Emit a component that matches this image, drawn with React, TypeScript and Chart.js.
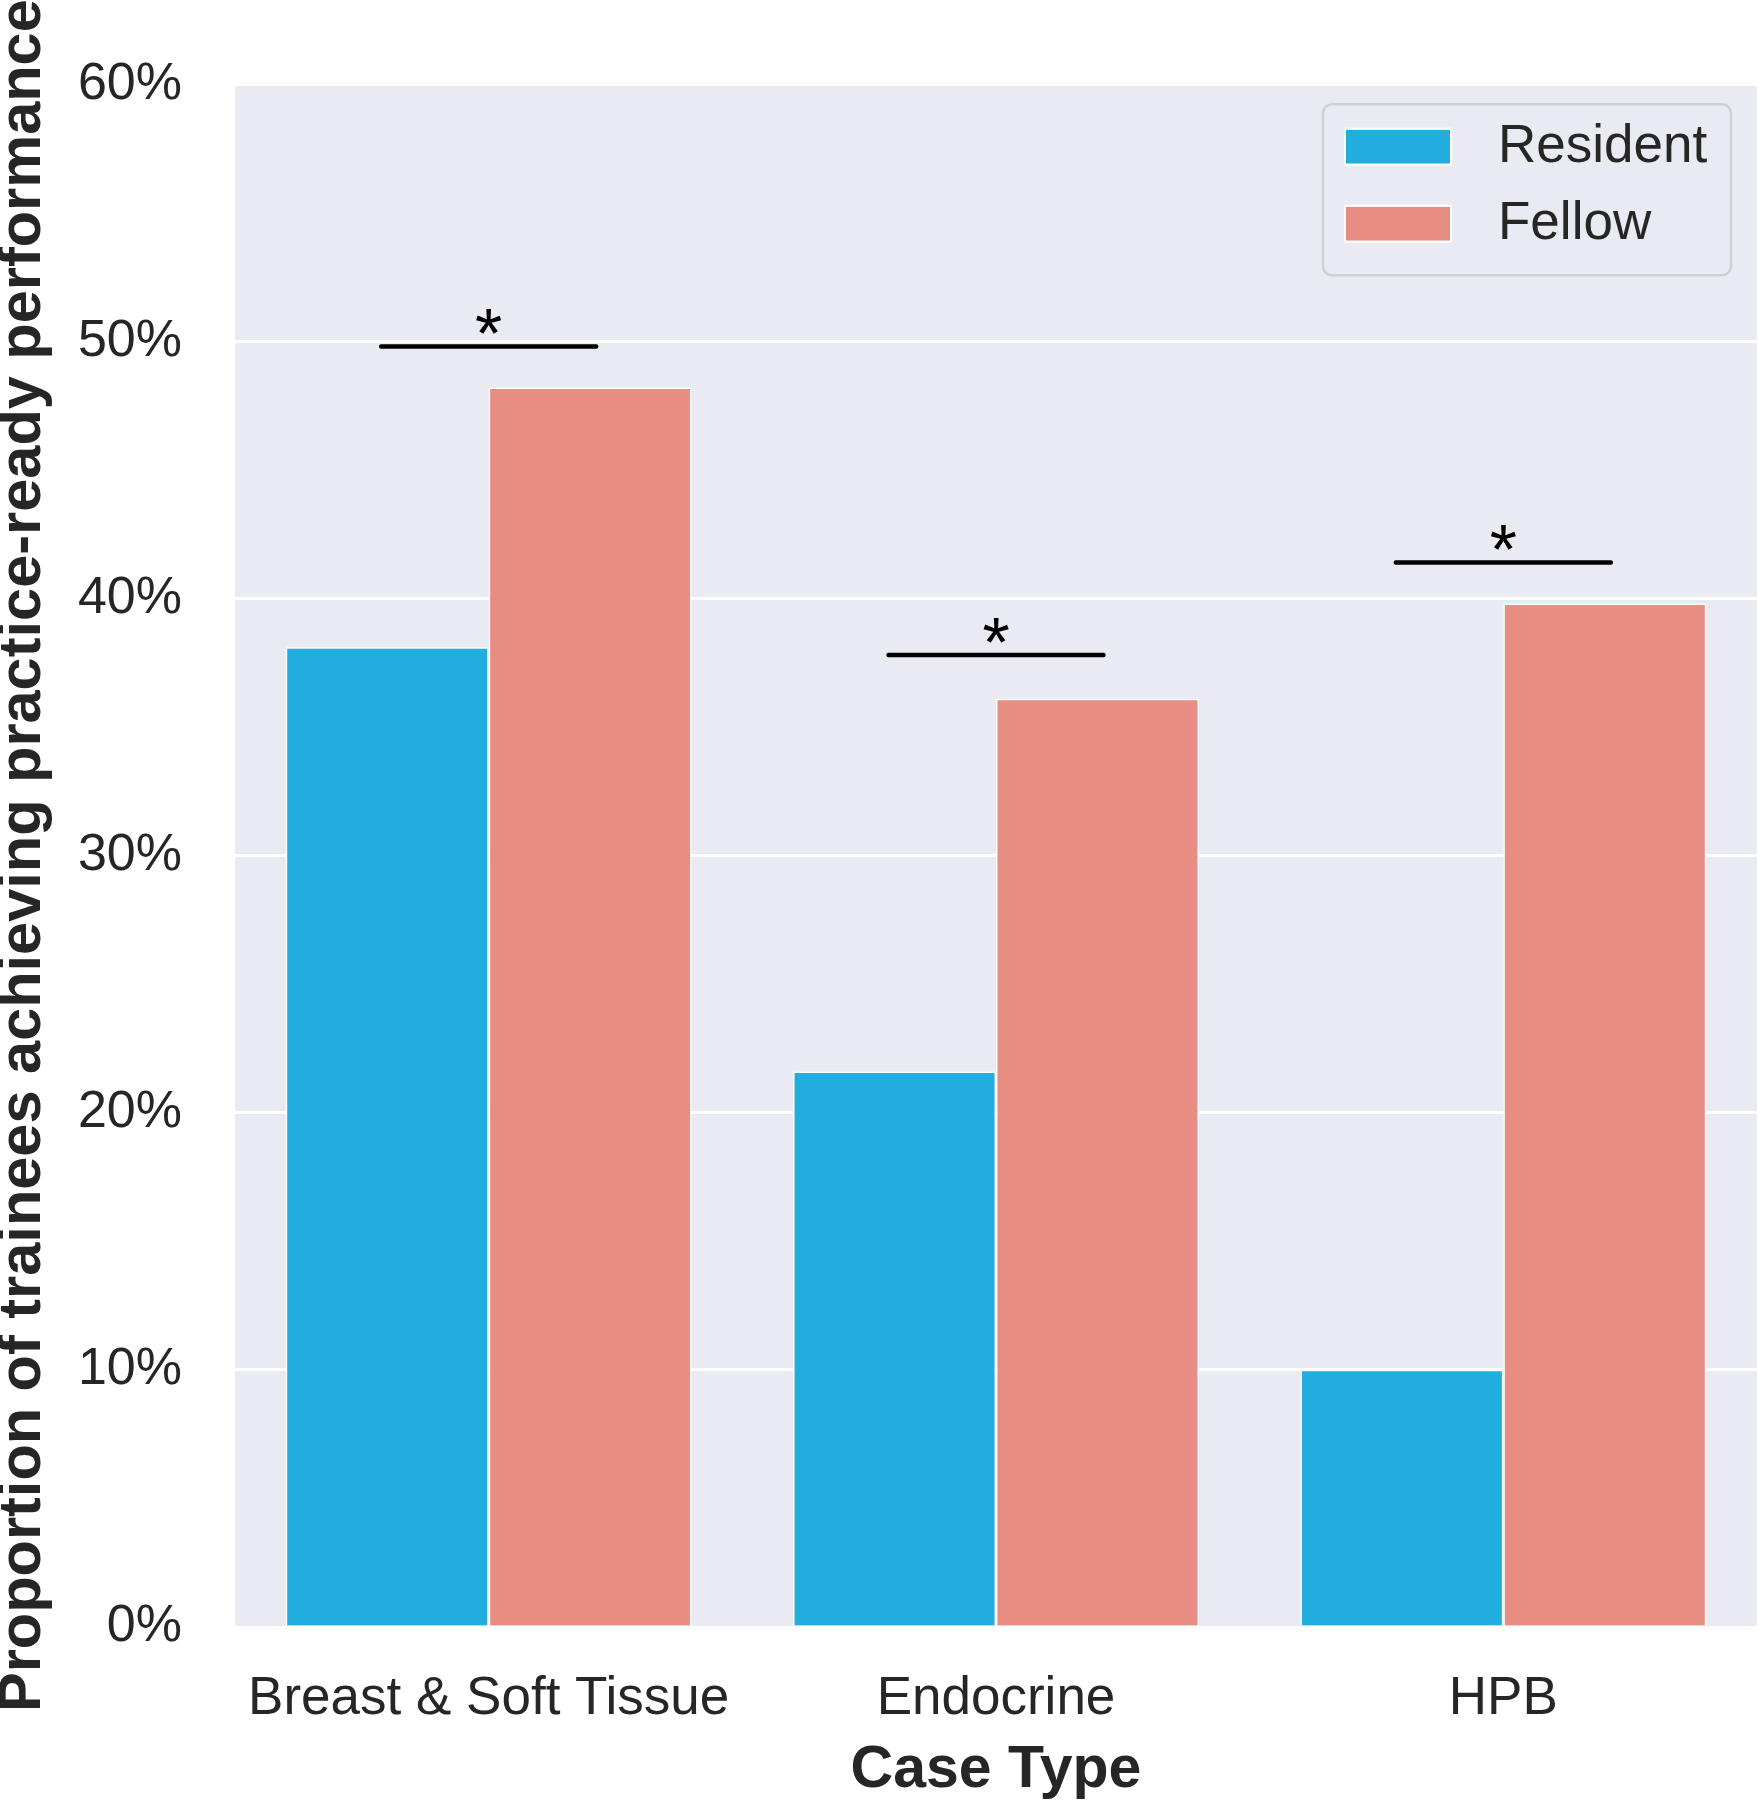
import React, { useEffect, useRef } from "react";
import { Chart, registerables } from "chart.js";

Chart.register(...registerables);

const categories = ["Breast & Soft Tissue", "Endocrine", "HPB"];
const seriesLabels = ["Resident", "Fellow"];
const residentValues = [38.1, 21.6, 10.0];
const fellowValues = [48.2, 36.1, 39.8];
const significanceLevels = [49.8, 37.8, 41.4];
const significanceMarks = ["*", "*", "*"];
const yMin = 0;
const yMax = 60;
const yStep = 10;
const yAxisTitle = "Proportion of trainees achieving practice-ready performance";
const xAxisTitle = "Case Type";

const FONT = '"Liberation Sans", Arial, Helvetica, sans-serif';
const TEXT = "#262626";
const RESIDENT_COLOR = "#21AEDE";
const FELLOW_COLOR = "#E88D82";
const PANEL = "#EAEAF2";

const backgroundPlugin = {
  id: "panelBackground",
  beforeDraw(chart: any) {
    const { ctx, chartArea: a, width, height } = chart;
    ctx.save();
    ctx.fillStyle = "#ffffff";
    ctx.fillRect(0, 0, width, height);
    ctx.fillStyle = PANEL;
    ctx.fillRect(a.left, a.top, a.right - a.left, a.bottom - a.top);
    ctx.restore();
  },
};

const significancePlugin = {
  id: "significance",
  afterDatasetsDraw(chart: any) {
    const { ctx } = chart;
    const m0 = chart.getDatasetMeta(0);
    const m1 = chart.getDatasetMeta(1);
    const yScale = chart.scales.y;
    ctx.save();
    significanceLevels.forEach((lvl, i) => {
      const x0 = m0.data[i].x - 6;
      const x1 = m1.data[i].x + 6;
      const py = yScale.getPixelForValue(lvl);
      ctx.strokeStyle = "#000000";
      ctx.lineWidth = 4.5;
      ctx.lineCap = "round";
      ctx.beginPath();
      ctx.moveTo(x0, py);
      ctx.lineTo(x1, py);
      ctx.stroke();
      ctx.font = `70px ${FONT}`;
      ctx.fillStyle = "#000000";
      ctx.textAlign = "center";
      ctx.textBaseline = "alphabetic";
      const mt = ctx.measureText(significanceMarks[i]);
      const cy = py - 25;
      const b = cy + (mt.actualBoundingBoxAscent - mt.actualBoundingBoxDescent) / 2;
      ctx.fillText(significanceMarks[i], (x0 + x1) / 2, b);
    });
    ctx.restore();
  },
};

const legendPlugin = {
  id: "insideLegend",
  afterDraw(chart: any) {
    const { ctx, chartArea: a } = chart;
    const bw = 408;
    const bh = 171;
    const bx = a.right - 26 - bw;
    const by = a.top + 20;
    ctx.save();
    ctx.beginPath();
    (ctx as any).roundRect(bx, by, bw, bh, 9);
    ctx.fillStyle = "rgba(234,234,242,0.8)";
    ctx.fill();
    ctx.lineWidth = 2.5;
    ctx.strokeStyle = "#CFCFD4";
    ctx.stroke();
    chart.data.datasets.forEach((ds: any, i: number) => {
      const cy = by + 42.5 + i * 77;
      ctx.fillStyle = ds.backgroundColor;
      ctx.fillRect(bx + 23, cy - 17, 104, 34);
      ctx.strokeStyle = "#ffffff";
      ctx.lineWidth = 2;
      ctx.strokeRect(bx + 22, cy - 18, 106, 36);
      ctx.fillStyle = TEXT;
      ctx.font = `53px ${FONT}`;
      ctx.textAlign = "left";
      ctx.textBaseline = "middle";
      ctx.fillText(ds.label, bx + 175, cy + 1);
    });
    ctx.restore();
  },
};

export default function App() {
  const ref = useRef<HTMLCanvasElement | null>(null);

  useEffect(() => {
    document.body.style.margin = "0";
    const canvas = ref.current;
    if (!canvas) return;
    const chart = new Chart(canvas, {
      type: "bar",
      data: {
        labels: categories,
        datasets: [
          {
            label: seriesLabels[0],
            data: residentValues,
            backgroundColor: RESIDENT_COLOR,
            borderColor: "#ffffff",
            borderWidth: 1.5,
            borderSkipped: "start",
          },
          {
            label: seriesLabels[1],
            data: fellowValues,
            backgroundColor: FELLOW_COLOR,
            borderColor: "#ffffff",
            borderWidth: 1.5,
            borderSkipped: "start",
          },
        ],
      },
      options: {
        responsive: false,
        animation: false,
        devicePixelRatio: 1,
        layout: { padding: { left: 0, right: 2, top: 79, bottom: 0 } },
        datasets: {
          bar: { categoryPercentage: 0.8, barPercentage: 1.0 },
        },
        plugins: {
          legend: { display: false },
          tooltip: { enabled: false },
          title: { display: false },
        },
        scales: {
          x: {
            grid: { display: false, drawTicks: false },
            border: { display: false },
            ticks: {
              color: TEXT,
              font: { family: FONT, size: 53 },
              padding: 41,
              maxRotation: 0,
              autoSkip: false,
            },
            title: {
              display: true,
              text: xAxisTitle,
              color: TEXT,
              font: { family: FONT, size: 59, weight: "bold", lineHeight: 1 },
              padding: { top: 0, bottom: 0 },
            },
            afterFit(scale: any) {
              scale.height = 173;
            },
          },
          y: {
            min: yMin,
            max: yMax,
            grid: { color: "#ffffff", lineWidth: 3, drawTicks: false },
            border: { display: false },
            ticks: {
              stepSize: yStep,
              color: TEXT,
              font: { family: FONT, size: 52 },
              padding: 53,
              callback: (v: any) => `${v}%`,
            },
            title: {
              display: true,
              text: yAxisTitle,
              color: TEXT,
              font: { family: FONT, size: 59.5, weight: "bold", lineHeight: 0.8 },
              padding: { top: 0, bottom: 0 },
            },
            afterFit(scale: any) {
              scale.width = 235;
            },
          },
        },
      },
      plugins: [backgroundPlugin, significancePlugin, legendPlugin],
    } as any);
    return () => chart.destroy();
  }, []);

  return (
    <div style={{ width: 1759, height: 1800, background: "#ffffff" }}>
      <canvas ref={ref} width={1759} height={1800} style={{ display: "block" }} />
    </div>
  );
}
